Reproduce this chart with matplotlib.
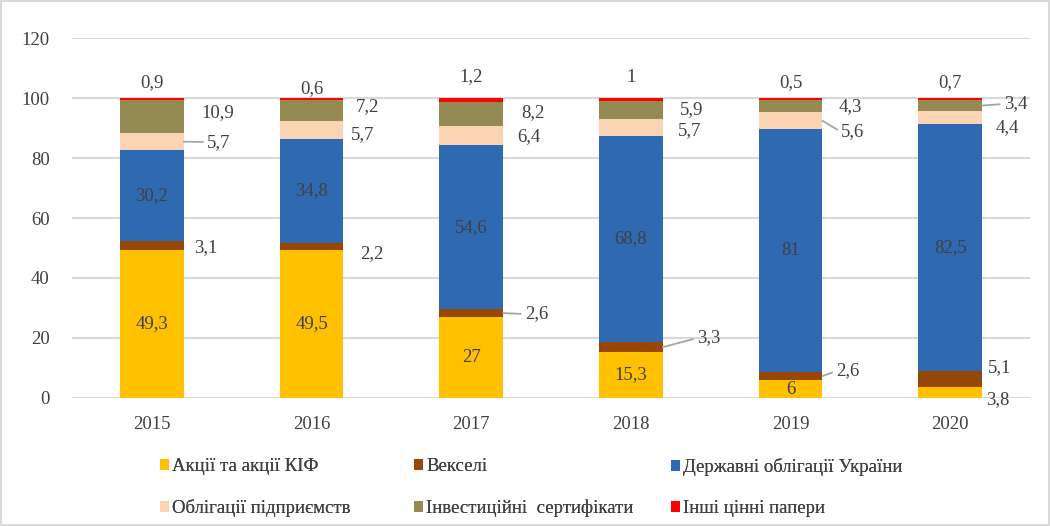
import matplotlib.pyplot as plt
import numpy as np

plt.rcParams['font.family'] = ['Liberation Serif', 'DejaVu Serif']

years = ['2015', '2016', '2017', '2018', '2019', '2020']
series_names = ['Акції та акції КІФ', 'Векселі', 'Державні облігації України',
                'Облігації підприємств', 'Інвестиційні  сертифікати', 'Інші цінні папери']
shares     = [49.3, 49.5, 27, 15.3, 6, 3.8]
bills      = [3.1, 2.2, 2.6, 3.3, 2.6, 5.1]
gov_bonds  = [30.2, 34.8, 54.6, 68.8, 81, 82.5]
corp_bonds = [5.7, 5.7, 6.4, 5.7, 5.6, 4.4]
inv_certs  = [10.9, 7.2, 8.2, 5.9, 4.3, 3.4]
other      = [0.9, 0.6, 1.2, 1, 0.5, 0.7]
series = [shares, bills, gov_bonds, corp_bonds, inv_certs, other]
colors = ['#FFC000', '#974806', '#2E69B2', '#FBD4B4', '#948A54', '#FF0000']

# где стоят внешние подписи: (series, year) -> (dx от центра столбца, y, выноска?)
label_pos = {
    (1, 0): (0.34, 50, False), (3, 0): (0.42, 85.3, True), (4, 0): (0.41, 95.3, False), (5, 0): (0, 105, False),
    (1, 1): (0.38, 48.3, False), (3, 1): (0.32, 87.7, False), (4, 1): (0.35, 97, False), (5, 1): (0, 103, False),
    (1, 2): (0.41, 28, True), (3, 2): (0.36, 87, False), (4, 2): (0.39, 95, False), (5, 2): (0, 107, False),
    (1, 3): (0.49, 20, True), (3, 3): (0.37, 89, False), (4, 3): (0.38, 96.3, False), (5, 3): (0, 107, False),
    (1, 4): (0.36, 9, True), (3, 4): (0.39, 88.7, True), (4, 4): (0.375, 97, False), (5, 4): (0, 105, False),
    (0, 5): (0.30, -0.5, False), (1, 5): (0.31, 10, False), (3, 5): (0.36, 90, False), (4, 5): (0.41, 98, True),
    (5, 5): (0, 105, False),
}

FS = 13.5
TXT = '#404040'

def fmt(v):
    return f'{v:g}'.replace('.', ',')

fig = plt.figure(figsize=(10.5, 5.26), dpi=100)
fig.patch.set_edgecolor('#d9d9d9')
fig.patch.set_linewidth(1.5)
ax = fig.add_axes([72/1050, 1-398/526, 958/1050, 360/526])

x = np.arange(len(years))
width = 0.4
bottom = np.zeros(len(years))
handles = []
for k, (vals, name, c) in enumerate(zip(series, series_names, colors)):
    vals = np.array(vals, dtype=float)
    h = ax.bar(x, vals, width, bottom=bottom, color=c, label=name, zorder=3)
    handles.append(h)
    for i, v in enumerate(vals):
        mid = bottom[i] + v / 2
        if (k, i) in label_pos:
            dx, ly, leader = label_pos[(k, i)]
            if leader:
                ax.annotate(fmt(v), xy=(x[i] + width / 2, mid), xytext=(x[i] + dx, ly),
                            ha='center', va='center', fontsize=FS, color=TXT,
                            arrowprops=dict(arrowstyle='-', color='#a6a6a6', lw=1.3,
                                            shrinkA=1, shrinkB=0, relpos=(0, 0.5)))
            else:
                ax.text(x[i] + dx, ly, fmt(v), ha='center', va='center',
                        fontsize=FS, color=TXT)
        elif k in (0, 2):
            ax.text(x[i], mid, fmt(v), ha='center', va='center',
                    fontsize=FS, color=TXT, zorder=4)
    bottom += vals

ax.set_ylim(0, 120)
ax.set_xlim(-0.5, len(years) - 0.5)
ax.set_yticks(range(0, 121, 20))
ax.set_xticks(x)
ax.set_xticklabels(years)
ax.yaxis.grid(True, color='#d9d9d9', lw=1.5, zorder=0)
ax.tick_params(length=0, labelsize=FS, labelcolor=TXT)
ax.tick_params(axis='x', pad=13)
ax.tick_params(axis='y', pad=16)
for s in ax.spines.values():
    s.set_visible(False)

# легенда: три колонки по два ряда
col_x = [160, 414, 671]
for j in range(3):
    hs = [handles[j], handles[j + 3]]
    lg = fig.legend(hs, [series_names[j], series_names[j + 3]], loc='upper left',
                    bbox_to_anchor=(col_x[j] / 1050, 1 - 458 / 526), frameon=False,
                    fontsize=FS, handlelength=0.5, handleheight=0.5, handletextpad=0.15,
                    labelspacing=1.3, borderpad=0, borderaxespad=0, labelcolor=TXT)
    fig.add_artist(lg)

fig.savefig('out.png', dpi=100)
